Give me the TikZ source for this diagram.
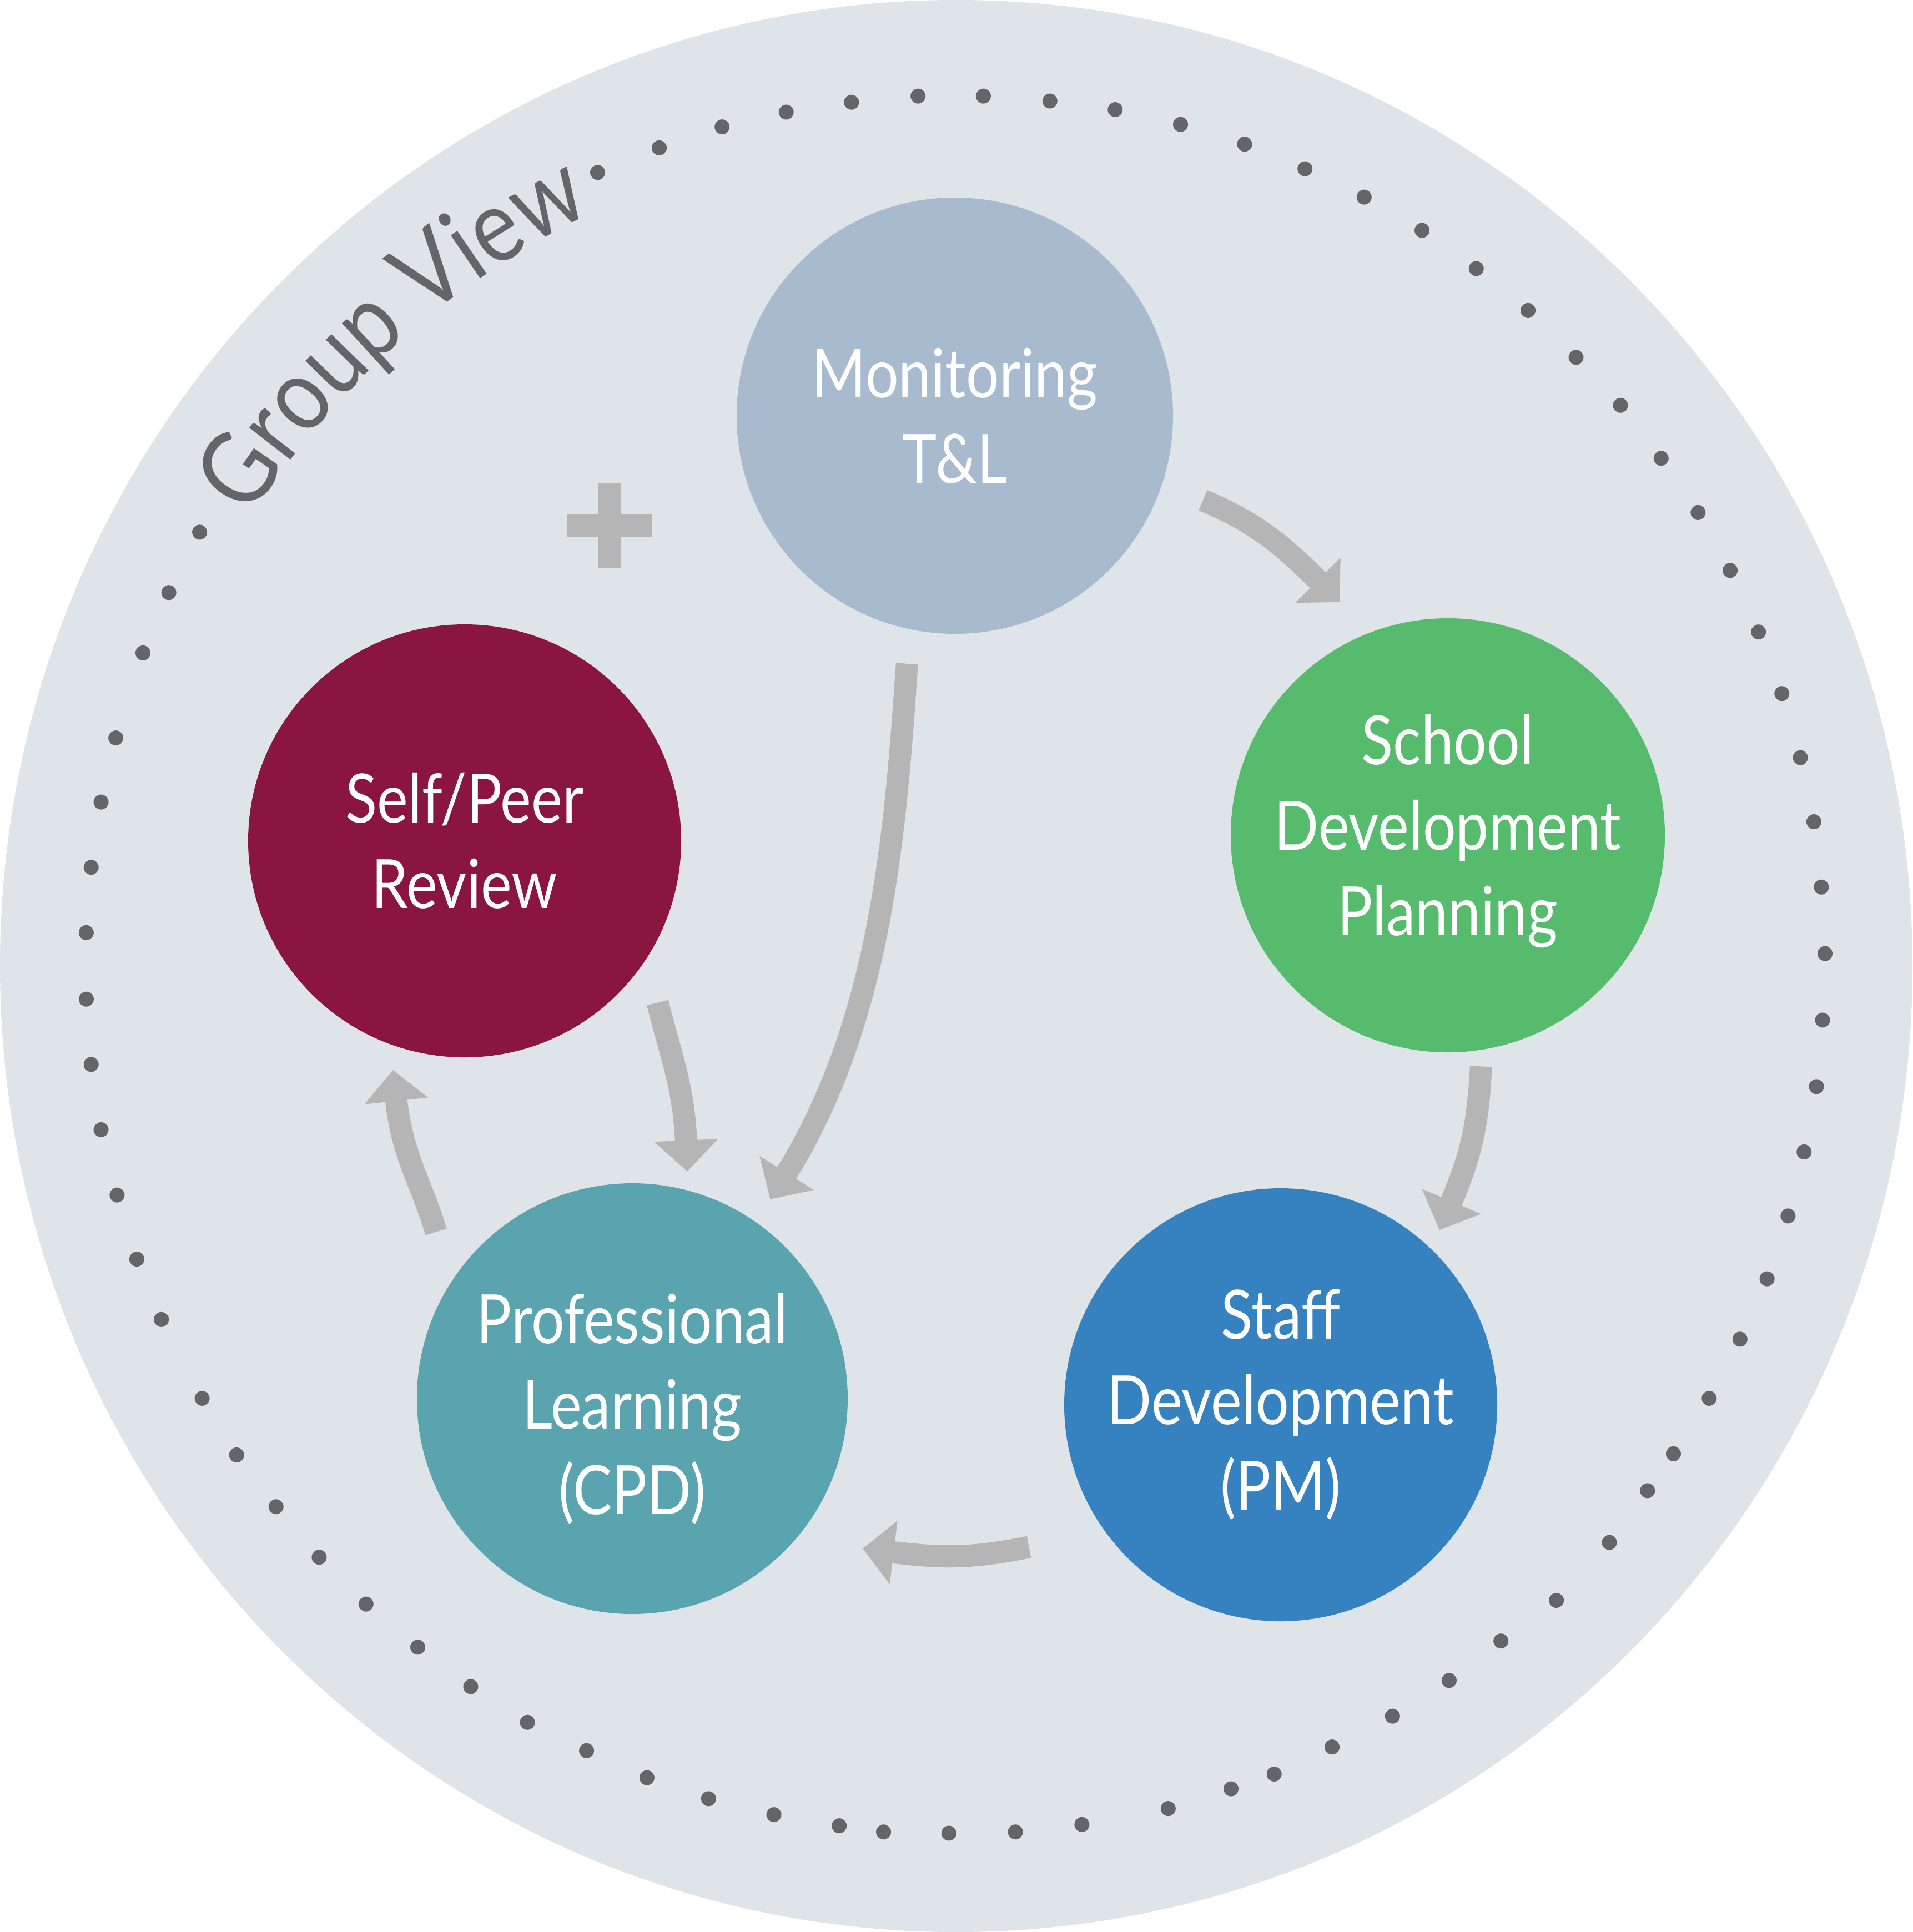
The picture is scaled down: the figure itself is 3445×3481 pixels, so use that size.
\documentclass[tikz,border=0pt]{standalone}
\usepackage{fontspec}
\usetikzlibrary{arrows.meta,decorations.text}
\newfontfamily\latofam[FakeStretch=0.86]{Lato}
\definecolor{bgc}{HTML}{DFE4E8}
\definecolor{dotc}{HTML}{636569}
\definecolor{arrc}{HTML}{B5B5B5}
\definecolor{monc}{HTML}{A8BACE}
\definecolor{sdpc}{HTML}{57BB6E}
\definecolor{selfc}{HTML}{8A1640}
\definecolor{profc}{HTML}{5AA4AF}
\definecolor{staffc}{HTML}{3682C0}
\begin{document}
\begin{tikzpicture}[x=0.2pt,y=0.2pt,
  circ/.style={circle,inner sep=0pt,draw=none},
  lbl/.style={text=white,align=center,inner sep=0pt,
    font=\latofam\fontsize{24.5pt}{30.8pt}\selectfont},
  flow/.style={draw=arrc,line width=8pt,-{Triangle[length=11.2pt,width=22.4pt]}},
  ringdot/.style={fill=dotc}]
\useasboundingbox (0,0) rectangle (3445,-3481);
\fill[bgc] (1722.5,-1740.5) ellipse [x radius=1722.5, y radius=1740.5];
% dotted ring
\begin{scope}[x=0.443939pt,y=-0.443939pt]
\foreach \px/\py in {485/140,535/120,586/103,638/91,691/83,745/78,798/78,852/82,905/89,958/101,
  1010/117,1059/137,1107/160,1154/187,1198/218,1240/252,1279/290,1315/329,1348/372,1378/416,
  1404/463,1427/513,1446/563,1461/615,1472/667,1478/720,1481/774,1479/828,1474/882,1464/935,
  1451/987,1434/1038,1412/1087,1387/1135,1358/1180,1337/1210,1306/1252,1263/1299,1218/1332,1176/1364,
  1130/1393,1081/1418,1034/1440,999/1452,948/1468,878/1481,824/1487,770/1488,717/1487,681/1482,
  628/1473,575/1460,525/1443,476/1421,428/1398,382/1369,339/1337,297/1302,259/1264,224/1223,
  192/1181,164/1135,131/1071,111/1022,95/970,82/917,74/864,70/811,70/757,74/704,
  82/651,94/599,116/530,137/481,162/432}
  \fill[ringdot] (\px,\py) circle[radius=6.08];
\end{scope}
% Group View
\path[decorate,decoration={text along path,text align=center,
   text={|\color{dotc}\latofam\fontsize{37pt}{40pt}\selectfont|Group View}}]
   (1721,-1738) ++(161.7:1504) arc[start angle=161.7,end angle=101.7,radius=1504];
% plus
\fill[arrc] (1021,-926.5) rectangle (1174,-966.5);
\fill[arrc] (1078,-870) rectangle (1118,-1023);
% circles
\node[circ,fill=monc,minimum size=157.2pt] (mon) at (1720,-749) {};
\node[circ,fill=sdpc,minimum size=156.4pt] (sdp) at (2608,-1505) {};
\node[circ,fill=selfc,minimum size=156pt] (self) at (837,-1515) {};
\node[circ,fill=profc,minimum size=155.2pt] (prof) at (1139,-2520) {};
\node[circ,fill=staffc,minimum size=156pt] (staff) at (2307,-2531) {};
% labels
\node[lbl] (monT) at (mon.center) {Monitoring\\T\&L};
\node[lbl,yshift=1.4pt] (sdpT) at (sdp.center) {School\\Development\\Planning};
\node[lbl] (selfT) at (self.center) {Self/Peer\\Review};
\node[lbl,yshift=-3.7pt] (profT) at (prof.center) {Professional\\Learning\\(CPD)};
\node[lbl] (staffT) at (staff.center) {Staff\\Development\\(PM)};
% arrows
\draw[flow,shorten <=15.69pt,shorten >=15.29pt] (mon.-18.9) .. controls +(-23:176.5) and +(135:230.5) .. (sdp.111.4);
\draw[flow,shorten <=12.32pt,shorten >=9.56pt] (mon.-102.6) .. controls +(-94:361.6) and +(58:427.8) .. (prof.55.2);
\draw[flow,shorten <=5.84pt,shorten >=7.26pt] (sdp.-81.2) .. controls +(-93:127.2) and +(67:190.3) .. (staff.46.0);
\draw[flow,shorten <=27.94pt,shorten >=24.48pt] (staff.216.2) .. controls +(191:237.7) and +(-7:276.4) .. (prof.-41.7);
\draw[flow,shorten <=18.52pt,shorten >=9.14pt] (prof.147.2) .. controls +(107:190.6) and +(-84:199.7) .. (self.-110.4);
\draw[flow,shorten <=16.22pt,shorten >=6.74pt] (self.-33.9) .. controls +(-76:179.1) and +(92.5:187.7) .. (prof.75.3);
\end{tikzpicture}
\end{document}
